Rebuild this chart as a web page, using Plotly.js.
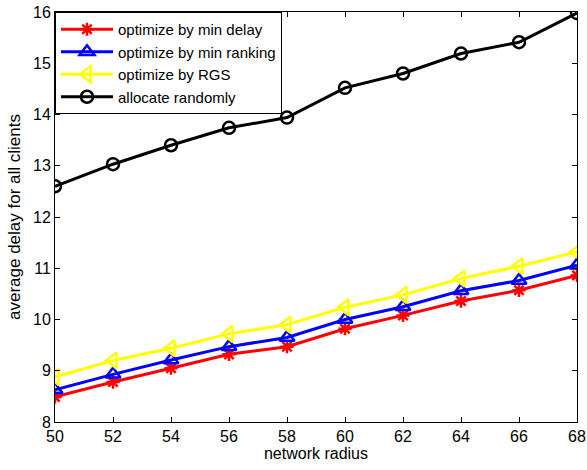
<!DOCTYPE html>
<html>
<head>
<meta charset="utf-8">
<script src="https://cdn.plot.ly/plotly-3.0.1.min.js"></script>
<style>
  html, body { margin: 0; padding: 0; background: #fff; }
  #chart { width: 587px; height: 470px; }
</style>
</head>
<body>
<div id="chart"></div>
<script>
// Network radius on the x axis
const radius = [50, 52, 54, 56, 58, 60, 62, 64, 66, 68];

// Average delay for all clients, per allocation strategy
const minDelay   = [8.49, 8.78, 9.05, 9.32, 9.47, 9.82, 10.08, 10.36, 10.57, 10.86];
const minRanking = [8.63, 8.93, 9.21, 9.47, 9.65, 10.00, 10.25, 10.56, 10.76, 11.06];
const rgs        = [8.88, 9.20, 9.44, 9.72, 9.90, 10.24, 10.48, 10.80, 11.04, 11.32];
const randomly   = [12.60, 13.03, 13.40, 13.74, 13.94, 14.52, 14.80, 15.19, 15.41, 15.98];

const seriesNames = ['optimize by min delay', 'optimize by min ranking', 'optimize by RGS', 'allocate randomly'];
const xTicks = [50, 52, 54, 56, 58, 60, 62, 64, 66, 68];
const yTicks = [8, 9, 10, 11, 12, 13, 14, 15, 16];

const FONT = 'Liberation Sans, Arial, sans-serif';

function series(y, name, color, symbol, size) {
  return {
    x: radius, y: y, name: name, type: 'scatter', mode: 'lines+markers',
    line: { color: color, width: 3 },
    marker: { symbol: symbol, size: size, color: color, line: { color: color, width: 2.5 } }
  };
}

const data = [
  series(minDelay, seriesNames[0], '#ff0000', 'asterisk-open', 11),
  series(minRanking, seriesNames[1], '#0000ff', 'triangle-up-open', 13),
  series(rgs, seriesNames[2], '#ffff00', 'triangle-left-open', 14),
  series(randomly, seriesNames[3], '#000000', 'circle-open', 12)
];

const axisCommon = {
  showgrid: false, zeroline: false,
  showline: true, linecolor: '#000', linewidth: 1, mirror: 'ticks',
  ticks: 'inside', ticklen: 5, tickcolor: '#000',
  tickfont: { family: FONT, size: 16, color: '#000' }
};

const layout = {
  width: 587, height: 470,
  margin: { l: 55, r: 10, t: 12, b: 48 },
  paper_bgcolor: '#fff', plot_bgcolor: '#fff',
  showlegend: true,
  xaxis: Object.assign({}, axisCommon, {
    range: [50, 68], tickvals: xTicks,
    title: { text: 'network radius', standoff: 2,
             font: { family: FONT, size: 16, color: '#000' } }
  }),
  yaxis: Object.assign({}, axisCommon, {
    range: [8, 16], tickvals: yTicks,
    title: { text: 'average delay for all clients', standoff: 8,
             font: { family: FONT, size: 17, color: '#000' } }
  }),
  legend: {
    x: 0, y: 1, xanchor: 'left', yanchor: 'top',
    bgcolor: '#fff', bordercolor: '#000', borderwidth: 1,
    font: { family: FONT, size: 15, color: '#000' },
    tracegroupgap: 0, itemwidth: 52
  }
};

Plotly.newPlot('chart', data, layout, { displayModeBar: false, staticPlot: true });
</script>
</body>
</html>
